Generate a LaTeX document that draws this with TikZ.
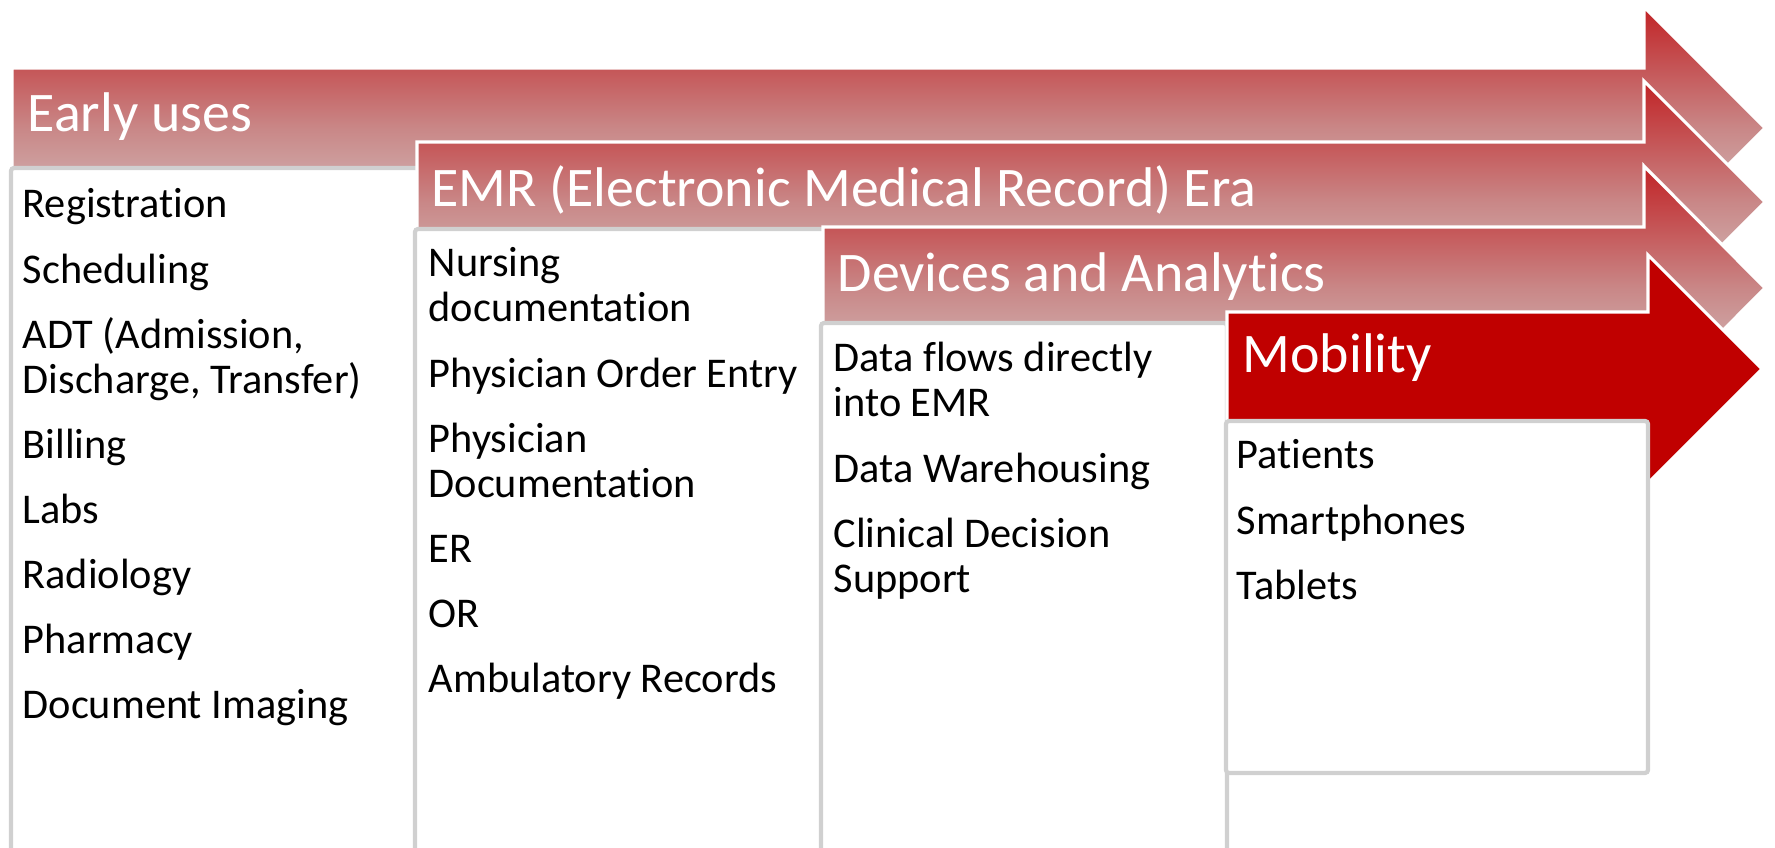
\documentclass[tikz,border=0pt]{standalone}
\usepackage{fontspec}
\setmainfont{Carlito}[Ligatures=NoCommon]
\definecolor{eratop}{RGB}{193,35,38}
\definecolor{eramid}{RGB}{201,135,135}
\definecolor{erabot}{RGB}{214,210,208}
\definecolor{mobred}{RGB}{192,0,0}
\definecolor{boxgrey}{RGB}{208,208,208}
\tikzset{
  erashaft/.style={draw=white, line width=0.9pt, top color=eratop, bottom color=erabot, middle color=eramid},
  mobshaft/.style={draw=white, line width=0.9pt, fill=mobred},
  erabox/.style={draw=boxgrey, fill=white, line width=1.2pt, rounded corners=0.3mm},
  eratitle/.style={anchor=base west, inner sep=0pt, text=white, font=\fontsize{15.9}{18}\selectfont},
  eralist/.style={anchor=base west, inner sep=0pt, align=flush left, text width=40mm, font=\fontsize{12.05}{12.8}\selectfont}
}
\begin{document}
\begin{tikzpicture}[x=0.1mm, y=-0.1mm]
  \useasboundingbox (0,0) rectangle (1775,848);
  \clip (0,0) rectangle (1775,848);
  % early uses
  \draw[erashaft] (12,68) -- (1644,68) -- (1644,7) -- (1765,128) -- (1644,249) -- (1644,188) -- (12,188) -- cycle;
  \node[eratitle] (early) at (27,132) {Early uses};
  \draw[erabox] (11,168) rectangle (430,880);
  \node[eralist] (earlylist) at (22,218) {Registration\\[5.7pt] Scheduling\\[5.7pt] ADT (Admission,\\ Discharge, Transfer)\\[5.7pt] Billing\\[5.7pt] Labs\\[5.7pt] Radiology\\[5.7pt] Pharmacy\\[5.7pt] Document Imaging};
  % EMR era
  \draw[erashaft] (417,142) -- (1644,142) -- (1644,81) -- (1765,202) -- (1644,323) -- (1644,262) -- (417,262) -- cycle;
  \node[eratitle] (emr) at (431,207) {EMR (Electronic Medical Record) Era};
  \draw[erabox] (415,229) rectangle (830,880);
  \node[eralist] (emrlist) at (428,277) {Nursing\\ documentation\\[5.7pt] Physician Order Entry\\[5.7pt] Physician\\ Documentation\\[5.7pt] ER\\[5.7pt] OR\\[5.7pt] Ambulatory Records};
  % devices and analytics
  \draw[erashaft] (823,227) -- (1644,227) -- (1644,166) -- (1765,288) -- (1644,410) -- (1644,349) -- (823,349) -- cycle;
  \node[eratitle] (devices) at (837,292) {Devices and Analytics};
  \draw[erabox] (821,323) rectangle (1227,880);
  \node[eralist] (deviceslist) at (833,372) {Data flows directly\\ into EMR\\[5.7pt] Data Warehousing\\[5.7pt] Clinical Decision\\ Support};
  % mobility
  \draw[mobshaft] (1227,312) -- (1648,312) -- (1648,255) -- (1762,369) -- (1648,483) -- (1648,426) -- (1227,426) -- cycle;
  \node[eratitle] (mobility) at (1242,373) {Mobility};
  \draw[erabox] (1226,421) rectangle (1648,773);
  \node[eralist] (mobilitylist) at (1236,469) {Patients\\[5.7pt] Smartphones\\[5.7pt] Tablets};
\end{tikzpicture}
\end{document}
